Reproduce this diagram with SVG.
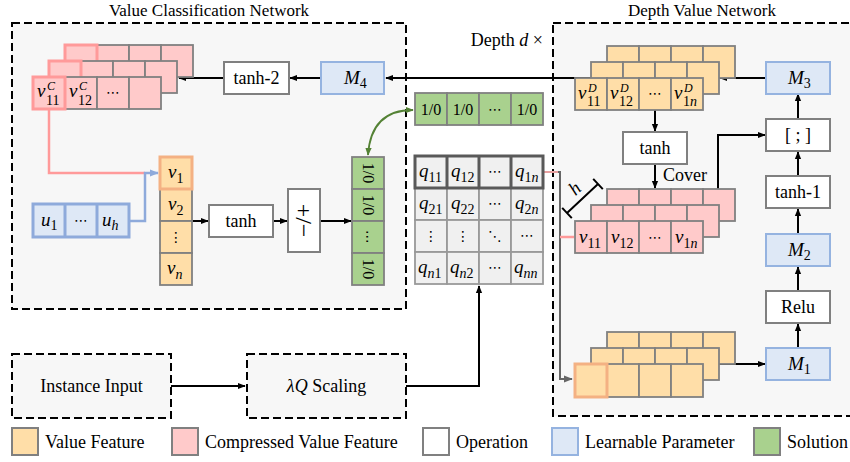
<svg xmlns="http://www.w3.org/2000/svg" width="850" height="462" viewBox="0 0 850 462">
<defs>
<style>
text{font-family:"Liberation Serif","DejaVu Serif",serif}
.t{font-size:18px;fill:#000}
.ti{font-size:17px;fill:#000}
.s{font-size:16px;fill:#000}
.mv{font-style:italic;font-size:19px;fill:#000}
.ms{font-style:normal;font-size:14px}
.msi{font-style:italic;font-size:14px}
.dots{font-family:"DejaVu Sans",sans-serif;font-size:14px;fill:#000}
.dash{fill:#f7f7f7;stroke:#000;stroke-width:2;stroke-dasharray:8 4}
.op{fill:#fff;stroke:#808080;stroke-width:2}
.lp{fill:#dee8f6;stroke:#95b3e0;stroke-width:2}
.vf{fill:#ffdea8;stroke:#808080;stroke-width:1.8}
.cv{fill:#ffcaca;stroke:#808080;stroke-width:1.8}
.sol{fill:#a9d18e;stroke:#808080;stroke-width:1.8}
.qc{fill:#f0f0f0;stroke:#999;stroke-width:1.8}
.pk{fill:none;stroke:#ff9a9a;stroke-width:3}
.or{fill:none;stroke:#f4b183;stroke-width:3}
.bl{fill:none;stroke:#8eaadb;stroke-width:3}
.ln{fill:none;stroke:#000;stroke-width:2}
</style>
<marker id="ab" viewBox="0 0 10 10" refX="9" refY="5" markerWidth="8" markerHeight="8" orient="auto-start-reverse" markerUnits="userSpaceOnUse"><path d="M0,1 L10,5 L0,9 z" fill="#000"/></marker>
<marker id="ag" viewBox="0 0 10 10" refX="9" refY="5" markerWidth="9" markerHeight="9" orient="auto-start-reverse" markerUnits="userSpaceOnUse"><path d="M0,1 L10,5 L0,9 z" fill="#666"/></marker>
<marker id="abl" viewBox="0 0 10 10" refX="9" refY="5" markerWidth="9" markerHeight="9" orient="auto-start-reverse" markerUnits="userSpaceOnUse"><path d="M0,1 L10,5 L0,9 z" fill="#8eaadb"/></marker>
<marker id="agr" viewBox="0 0 10 10" refX="9" refY="5" markerWidth="8" markerHeight="8" orient="auto-start-reverse" markerUnits="userSpaceOnUse"><path d="M0,1 L10,5 L0,9 z" fill="#548235"/></marker>
</defs>
<rect width="850" height="462" fill="#fff"/>

<!-- containers -->
<g id="vcn">
<rect class="dash" x="12" y="23" width="394" height="286"/>
<text class="ti" x="209" y="16" text-anchor="middle">Value Classification Network</text>
</g>
<g id="dvn">
<rect class="dash" x="553" y="23" width="320" height="393"/>
<text class="ti" x="702" y="16" text-anchor="middle">Depth Value Network</text>
</g>
<text class="t" x="543" y="46" text-anchor="end">Depth <tspan font-style="italic">d</tspan> ×</text>

<!-- connectors -->
<g id="connectors">
<path class="ln" d="M591,78 H386" marker-end="url(#ab)"/>
<path class="ln" d="M321,78 H290" marker-end="url(#ab)"/>
<path class="ln" d="M224,78 H179" marker-end="url(#ab)"/>
<path d="M49,109 V173 H145" fill="none" stroke="#ff9a9a" stroke-width="2.5"/>
<path d="M129,221 H145 V173 H158" fill="none" stroke="#8eaadb" stroke-width="2.5" marker-end="url(#abl)"/>
<path class="ln" d="M192,221 H208" marker-end="url(#ab)"/>
<path class="ln" d="M273,221 H287" marker-end="url(#ab)"/>
<path class="ln" d="M320,221 H351" marker-end="url(#ab)"/>
<path d="M368,155 Q371,110 413,110" fill="none" stroke="#548235" stroke-width="1.8" marker-start="url(#agr)" marker-end="url(#agr)"/>
<path class="ln" d="M171,386 H245" marker-end="url(#ab)"/>
<path class="ln" d="M406,386 H479 V286" marker-end="url(#ab)"/>
<path d="M544,172 H560 V379 H572" fill="none" stroke="#666" stroke-width="2" marker-end="url(#ag)"/>
<path d="M544,172 H558" fill="none" stroke="#e8a0a0" stroke-width="2"/>
<path d="M560,237 H574" fill="none" stroke="#ff9a9a" stroke-width="2.5"/>
<path class="ln" d="M766,78 H720" marker-end="url(#ab)"/>
<path class="ln" d="M655,110 V131" marker-end="url(#ab)"/>
<path class="ln" d="M655,164 V188" marker-end="url(#ab)"/>
<path class="ln" d="M718,189 V135 H765" marker-end="url(#ab)"/>
<path class="ln" d="M798,119 V94" marker-end="url(#ab)"/>
<path class="ln" d="M798,176 V152" marker-end="url(#ab)"/>
<path class="ln" d="M798,234 V209" marker-end="url(#ab)"/>
<path class="ln" d="M798,291 V267" marker-end="url(#ab)"/>
<path class="ln" d="M798,348 V324" marker-end="url(#ab)"/>
<path class="ln" d="M719,364 H765" marker-end="url(#ab)"/>
<path d="M567,213 L598,184 M562.2,207.9 L571.8,218.1 M593.2,178.9 L602.8,189.1" fill="none" stroke="#000" stroke-width="2"/>
<text class="mv" x="579" y="193" text-anchor="middle" transform="rotate(-43 579 193)">h</text>
</g>

<!-- left compressed stack -->
<g id="cstack-left">
<rect class="cv" x="65" y="45" width="32" height="32"/><rect class="cv" x="97" y="45" width="32" height="32"/><rect class="cv" x="129" y="45" width="32" height="32"/><rect class="cv" x="161" y="45" width="32" height="32"/>
<rect class="pk" x="65" y="45" width="32" height="32"/>
<rect class="cv" x="49" y="61" width="32" height="32"/><rect class="cv" x="81" y="61" width="32" height="32"/><rect class="cv" x="113" y="61" width="32" height="32"/><rect class="cv" x="145" y="61" width="32" height="32"/>
<rect class="pk" x="49" y="61" width="32" height="32"/>
<rect class="cv" x="33" y="77" width="32" height="32"/><rect class="cv" x="65" y="77" width="32" height="32"/><rect class="cv" x="97" y="77" width="32" height="32"/><rect class="cv" x="129" y="77" width="32" height="32"/>
<rect class="pk" x="33" y="77" width="32" height="32"/>
<text class="mv" x="37" y="97">v</text><text class="msi" x="47" y="90" style="font-size:12px">C</text><text class="ms" x="46" y="105">11</text>
<text class="mv" x="69" y="97">v</text><text class="msi" x="79" y="90" style="font-size:12px">C</text><text class="ms" x="78" y="105">12</text>
<text class="dots" x="113" y="97" text-anchor="middle">⋯</text>
</g>

<g id="tanh2"><rect class="op" x="224" y="62" width="65" height="32"/><text class="t" x="256.5" y="84" text-anchor="middle">tanh-2</text></g>
<g id="M4"><rect class="lp" x="321" y="62" width="63" height="32"/><text class="mv" x="344" y="84">M<tspan class="ms" dy="4">4</tspan></text></g>

<g id="u-row">
<rect class="lp" x="33" y="204" width="32" height="33"/><rect class="lp" x="65" y="204" width="32" height="33"/><rect class="lp" x="97" y="204" width="32" height="33"/>
<rect class="bl" x="33" y="204" width="96" height="33"/>
<line x1="65" y1="204" x2="65" y2="237" stroke="#8eaadb" stroke-width="3"/><line x1="97" y1="204" x2="97" y2="237" stroke="#8eaadb" stroke-width="3"/>
<text class="mv" x="41" y="226">u<tspan class="ms" dy="4">1</tspan></text>
<text class="dots" x="81" y="225" text-anchor="middle">⋯</text>
<text class="mv" x="102" y="226">u<tspan class="msi" dy="4">h</tspan></text>
</g>

<g id="v-col">
<rect class="vf" x="160" y="157" width="32" height="32"/><rect class="vf" x="160" y="189" width="32" height="32"/><rect class="vf" x="160" y="221" width="32" height="32"/><rect class="vf" x="160" y="253" width="32" height="32"/>
<rect class="or" x="160" y="157" width="32" height="32"/>
<text class="mv" x="168" y="178">v<tspan class="ms" dy="5">1</tspan></text>
<text class="mv" x="168" y="210">v<tspan class="ms" dy="5">2</tspan></text>
<text class="dots" x="176" y="242" text-anchor="middle">⋮</text>
<text class="mv" x="167" y="274">v<tspan class="msi" dy="5">n</tspan></text>
</g>

<g id="tanh-l"><rect class="op" x="209" y="205" width="64" height="32"/><text class="t" x="241" y="227" text-anchor="middle">tanh</text></g>
<g id="sign"><rect class="op" x="288" y="189" width="32" height="63"/><text x="304" y="220.5" text-anchor="middle" dominant-baseline="central" style="font-size:24px" transform="rotate(90 304 220.5)">+/−</text></g>

<g id="sol-col">
<rect class="sol" x="352" y="157" width="32" height="32"/><rect class="sol" x="352" y="189" width="32" height="32"/><rect class="sol" x="352" y="221" width="32" height="32"/><rect class="sol" x="352" y="253" width="32" height="32"/>
<text class="s" x="368" y="173" text-anchor="middle" dominant-baseline="central" transform="rotate(90 368 173)">1/0</text>
<text class="s" x="368" y="205" text-anchor="middle" dominant-baseline="central" transform="rotate(90 368 205)">1/0</text>
<text class="dots" x="368" y="237" text-anchor="middle" dominant-baseline="central" transform="rotate(90 368 237)">⋯</text>
<text class="s" x="368" y="269" text-anchor="middle" dominant-baseline="central" transform="rotate(90 368 269)">1/0</text>
</g>

<g id="sol-row">
<rect class="sol" x="415" y="93" width="32" height="32"/><rect class="sol" x="447" y="93" width="32" height="32"/><rect class="sol" x="479" y="93" width="32" height="32"/><rect class="sol" x="511" y="93" width="32" height="32"/>
<text class="s" x="431" y="115" text-anchor="middle">1/0</text>
<text class="s" x="463" y="115" text-anchor="middle">1/0</text>
<text class="dots" x="495" y="114" text-anchor="middle">⋯</text>
<text class="s" x="527" y="115" text-anchor="middle">1/0</text>
</g>

<g id="Q">
<rect class="qc" x="415" y="156" width="32" height="32"/><rect class="qc" x="447" y="156" width="32" height="32"/><rect class="qc" x="479" y="156" width="32" height="32"/><rect class="qc" x="511" y="156" width="32" height="32"/>
<rect class="qc" x="415" y="188" width="32" height="32"/><rect class="qc" x="447" y="188" width="32" height="32"/><rect class="qc" x="479" y="188" width="32" height="32"/><rect class="qc" x="511" y="188" width="32" height="32"/>
<rect class="qc" x="415" y="220" width="32" height="32"/><rect class="qc" x="447" y="220" width="32" height="32"/><rect class="qc" x="479" y="220" width="32" height="32"/><rect class="qc" x="511" y="220" width="32" height="32"/>
<rect class="qc" x="415" y="252" width="32" height="32"/><rect class="qc" x="447" y="252" width="32" height="32"/><rect class="qc" x="479" y="252" width="32" height="32"/><rect class="qc" x="511" y="252" width="32" height="32"/>
<g fill="none" stroke="#595959" stroke-width="3"><rect x="415" y="156" width="128" height="32"/><line x1="447" y1="156" x2="447" y2="188"/><line x1="479" y1="156" x2="479" y2="188"/><line x1="511" y1="156" x2="511" y2="188"/></g>
<text class="mv" x="419" y="177">q<tspan class="ms" dy="5">11</tspan></text>
<text class="mv" x="451" y="177">q<tspan class="ms" dy="5">12</tspan></text>
<text class="dots" x="495" y="176" text-anchor="middle">⋯</text>
<text class="mv" x="515" y="177">q<tspan class="ms" dy="5">1</tspan><tspan class="msi">n</tspan></text>
<text class="mv" x="419" y="209">q<tspan class="ms" dy="5">21</tspan></text>
<text class="mv" x="451" y="209">q<tspan class="ms" dy="5">22</tspan></text>
<text class="dots" x="495" y="208" text-anchor="middle">⋯</text>
<text class="mv" x="515" y="209">q<tspan class="ms" dy="5">2</tspan><tspan class="msi">n</tspan></text>
<text class="dots" x="431" y="241" text-anchor="middle">⋮</text>
<text class="dots" x="463" y="241" text-anchor="middle">⋮</text>
<text class="dots" x="495" y="241" text-anchor="middle">⋱</text>
<text class="dots" x="527" y="240" text-anchor="middle">⋯</text>
<text class="mv" x="418" y="273">q<tspan class="msi" dy="5">n</tspan><tspan class="ms">1</tspan></text>
<text class="mv" x="450" y="273">q<tspan class="msi" dy="5">n</tspan><tspan class="ms">2</tspan></text>
<text class="dots" x="495" y="272" text-anchor="middle">⋯</text>
<text class="mv" x="514" y="273">q<tspan class="msi" dy="5">nn</tspan></text>
</g>

<g id="instance"><rect class="dash" x="12" y="354" width="159" height="64"/><text class="t" x="91.5" y="392" text-anchor="middle">Instance Input</text></g>
<g id="scaling"><rect class="dash" x="247" y="354" width="159" height="64"/><text class="t" x="326.5" y="392" text-anchor="middle"><tspan font-style="italic">λQ</tspan> Scaling</text></g>

<!-- right side -->
<g id="dstack-top">
<rect class="vf" x="607" y="46" width="32" height="32"/><rect class="vf" x="639" y="46" width="32" height="32"/><rect class="vf" x="671" y="46" width="32" height="32"/><rect class="vf" x="703" y="46" width="32" height="32"/>
<rect class="vf" x="591" y="62" width="32" height="32"/><rect class="vf" x="623" y="62" width="32" height="32"/><rect class="vf" x="655" y="62" width="32" height="32"/><rect class="vf" x="687" y="62" width="32" height="32"/>
<rect class="vf" x="575" y="78" width="32" height="32"/><rect class="vf" x="607" y="78" width="32" height="32"/><rect class="vf" x="639" y="78" width="32" height="32"/><rect class="vf" x="671" y="78" width="32" height="32"/>
<text class="mv" x="578" y="99">v</text><text class="msi" x="588" y="92" style="font-size:12px">D</text><text class="ms" x="587" y="106">11</text>
<text class="mv" x="610" y="99">v</text><text class="msi" x="620" y="92" style="font-size:12px">D</text><text class="ms" x="619" y="106">12</text>
<text class="dots" x="655" y="98" text-anchor="middle">⋯</text>
<text class="mv" x="674" y="99">v</text><text class="msi" x="684" y="92" style="font-size:12px">D</text><text class="ms" x="683" y="106">1<tspan class="msi">n</tspan></text>
</g>
<g id="M3"><rect class="lp" x="766" y="62" width="64" height="32"/><text class="mv" x="788" y="84">M<tspan class="ms" dy="4">3</tspan></text></g>
<g id="tanh-r"><rect class="op" x="623" y="132" width="64" height="32"/><text class="t" x="655" y="154" text-anchor="middle">tanh</text></g>
<text class="t" x="663" y="181">Cover</text>

<g id="cstack-right">
<rect class="cv" x="607" y="189" width="32" height="32"/><rect class="cv" x="639" y="189" width="32" height="32"/><rect class="cv" x="671" y="189" width="32" height="32"/><rect class="cv" x="703" y="189" width="32" height="32"/>
<rect class="cv" x="591" y="205" width="32" height="32"/><rect class="cv" x="623" y="205" width="32" height="32"/><rect class="cv" x="655" y="205" width="32" height="32"/><rect class="cv" x="687" y="205" width="32" height="32"/>
<rect class="cv" x="575" y="221" width="32" height="32" stroke="#ff9a9a" stroke-width="3"/><rect class="cv" x="607" y="221" width="32" height="32" stroke="#ff9a9a" stroke-width="3"/><rect class="cv" x="639" y="221" width="32" height="32" stroke="#ff9a9a" stroke-width="3"/><rect class="cv" x="671" y="221" width="32" height="32" stroke="#ff9a9a" stroke-width="3"/>
<text class="mv" x="579" y="243">v<tspan class="ms" dy="5">11</tspan></text>
<text class="mv" x="611" y="243">v<tspan class="ms" dy="5">12</tspan></text>
<text class="dots" x="655" y="242" text-anchor="middle">⋯</text>
<text class="mv" x="675" y="243">v<tspan class="ms" dy="5">1</tspan><tspan class="msi">n</tspan></text>
</g>

<g id="concat"><rect class="op" x="766" y="119" width="64" height="32"/><text class="t" x="798" y="141" text-anchor="middle">[ ; ]</text></g>
<g id="tanh1"><rect class="op" x="766" y="176" width="64" height="32"/><text class="t" x="798" y="198" text-anchor="middle">tanh-1</text></g>
<g id="M2"><rect class="lp" x="766" y="234" width="64" height="32"/><text class="mv" x="788" y="256">M<tspan class="ms" dy="4">2</tspan></text></g>
<g id="relu"><rect class="op" x="766" y="291" width="64" height="32"/><text class="t" x="798" y="313" text-anchor="middle">Relu</text></g>
<g id="M1"><rect class="lp" x="766" y="348" width="64" height="32"/><text class="mv" x="788" y="370">M<tspan class="ms" dy="4">1</tspan></text></g>

<g id="vstack-bottom">
<rect class="vf" x="607" y="332" width="32" height="32"/><rect class="vf" x="639" y="332" width="32" height="32"/><rect class="vf" x="671" y="332" width="32" height="32"/><rect class="vf" x="703" y="332" width="32" height="32"/>
<rect class="vf" x="591" y="348" width="32" height="32"/><rect class="vf" x="623" y="348" width="32" height="32"/><rect class="vf" x="655" y="348" width="32" height="32"/><rect class="vf" x="687" y="348" width="32" height="32"/>
<rect class="vf" x="575" y="364" width="32" height="33"/><rect class="vf" x="607" y="364" width="32" height="33"/><rect class="vf" x="639" y="364" width="32" height="33"/><rect class="vf" x="671" y="364" width="32" height="33"/>
<rect class="or" x="575" y="364" width="32" height="33"/>
</g>

<!-- legend -->
<g id="legend">
<rect x="12" y="428" width="26" height="27" fill="#ffdea8" stroke="#808080" stroke-width="2"/>
<text class="t" x="45" y="448">Value Feature</text>
<rect x="172" y="428" width="26" height="27" fill="#ffcaca" stroke="#808080" stroke-width="2"/>
<text class="t" x="205" y="448">Compressed Value Feature</text>
<rect x="423" y="428" width="26" height="27" fill="#fff" stroke="#808080" stroke-width="2"/>
<text class="t" x="456" y="448">Operation</text>
<rect x="552" y="428" width="26" height="27" fill="#dee8f6" stroke="#95b3e0" stroke-width="2"/>
<text class="t" x="585" y="448">Learnable Parameter</text>
<rect x="754" y="428" width="26" height="27" fill="#a9d18e" stroke="#808080" stroke-width="2"/>
<text class="t" x="787" y="448">Solution</text>
</g>
</svg>
